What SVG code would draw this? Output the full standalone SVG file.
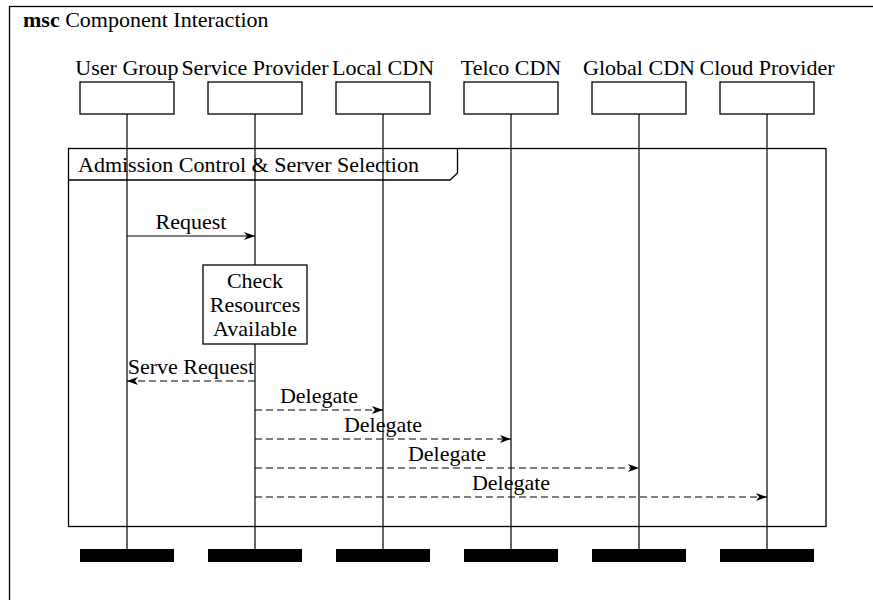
<svg xmlns="http://www.w3.org/2000/svg" width="873" height="600" viewBox="0 0 873 600">
<style>
text{font-family:"Liberation Serif","DejaVu Serif",serif;font-size:22px;fill:#000}
.c{text-anchor:middle}
.box{fill:#fff;stroke:#000;stroke-width:1.3}
.life{stroke:#000;stroke-width:1.2}
.msg{stroke:#000;stroke-width:1.2;fill:none}
.dash{stroke-dasharray:7,4}
.bar{fill:#000}
</style>
<defs>
<marker id="ah" markerWidth="12" markerHeight="10" refX="11" refY="5" orient="auto" markerUnits="userSpaceOnUse">
<path d="M0,1 L11,5 L0,9 L3,5 z" fill="#000"/>
</marker>
</defs>
<rect x="9.5" y="6.5" width="900" height="700" fill="none" stroke="#000" stroke-width="1.3"/>
<text x="23" y="27"><tspan font-weight="bold">msc</tspan> Component Interaction</text>
<g id="lifelines">
<line class="life" x1="127" y1="114" x2="127" y2="550"/>
<line class="life" x1="255" y1="114" x2="255" y2="550"/>
<line class="life" x1="383" y1="114" x2="383" y2="550"/>
<line class="life" x1="511" y1="114" x2="511" y2="550"/>
<line class="life" x1="639" y1="114" x2="639" y2="550"/>
<line class="life" x1="767" y1="114" x2="767" y2="550"/>
</g>
<g id="frame">
<rect x="68.5" y="148.5" width="757.5" height="378" fill="none" stroke="#000" stroke-width="1.3"/>
<path d="M68.5,180 L450,180 L457.5,173 L457.5,148.5" fill="none" stroke="#000" stroke-width="1.3"/>
<text x="78" y="172">Admission Control &amp; Server Selection</text>
</g>
<g id="n-user"><rect class="box" x="80" y="82" width="94" height="32"/><text class="c" x="127" y="75">User Group</text><rect class="bar" x="80" y="549" width="94" height="13"/></g>
<g id="n-sp"><rect class="box" x="208" y="82" width="94" height="32"/><text class="c" x="255" y="75">Service Provider</text><rect class="bar" x="208" y="549" width="94" height="13"/></g>
<g id="n-local"><rect class="box" x="336" y="82" width="94" height="32"/><text class="c" x="383" y="75">Local CDN</text><rect class="bar" x="336" y="549" width="94" height="13"/></g>
<g id="n-telco"><rect class="box" x="464" y="82" width="94" height="32"/><text class="c" x="511" y="75">Telco CDN</text><rect class="bar" x="464" y="549" width="94" height="13"/></g>
<g id="n-global"><rect class="box" x="592" y="82" width="94" height="32"/><text class="c" x="639" y="75">Global CDN</text><rect class="bar" x="592" y="549" width="94" height="13"/></g>
<g id="n-cloud"><rect class="box" x="720" y="82" width="94" height="32"/><text class="c" x="767" y="75">Cloud Provider</text><rect class="bar" x="720" y="549" width="94" height="13"/></g>
<g id="n-check"><rect class="box" x="203" y="265" width="104" height="79"/>
<text class="c" x="255" y="288">Check</text><text class="c" x="255" y="312">Resources</text><text class="c" x="255" y="336">Available</text></g>
<g id="connectors">
<line class="msg" x1="127" y1="236" x2="255" y2="236" marker-end="url(#ah)"/>
<text class="c" x="191" y="229">Request</text>
<line class="msg dash" x1="255" y1="381" x2="127" y2="381" marker-end="url(#ah)"/>
<text class="c" x="191" y="374">Serve Request</text>
<line class="msg dash" x1="255" y1="410" x2="383" y2="410" marker-end="url(#ah)"/>
<text class="c" x="319" y="403">Delegate</text>
<line class="msg dash" x1="255" y1="439" x2="511" y2="439" marker-end="url(#ah)"/>
<text class="c" x="383" y="432">Delegate</text>
<line class="msg dash" x1="255" y1="468" x2="639" y2="468" marker-end="url(#ah)"/>
<text class="c" x="447" y="461">Delegate</text>
<line class="msg dash" x1="255" y1="497" x2="767" y2="497" marker-end="url(#ah)"/>
<text class="c" x="511" y="490">Delegate</text>
</g>
</svg>
